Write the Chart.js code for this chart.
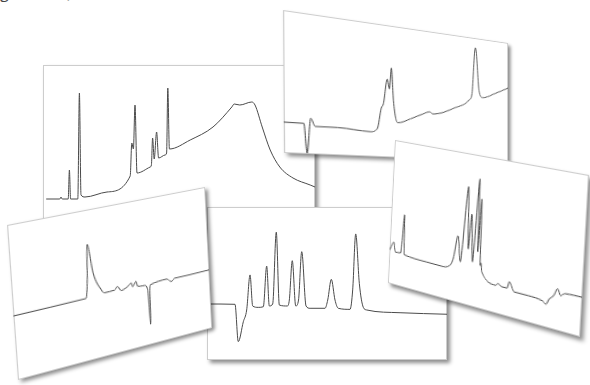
<!DOCTYPE html>
<html>
<head>
<meta charset="utf-8">
<script src="https://cdn.jsdelivr.net/npm/chart.js@4"></script>
<style>
  html, body { margin: 0; padding: 0; background: #fff; }
  body { width: 590px; height: 385px; position: relative; overflow: hidden; font-family: "Open Sans", sans-serif; }
  .caption { position: absolute; left: 0; top: -19px; font-size: 16px; color: #444; white-space: nowrap; }
  .card {
    position: absolute; left: 0; top: 0;
    transform-origin: 0 0;
    background: #fff;
    box-shadow: inset 0 0 0 1px #cdcdcd, 3px 3px 4px rgba(0, 0, 0, 0.45);
  }
  .card canvas { position: absolute; left: 0; top: 0; }
</style>
</head>
<body>
<div class="caption">g over all)</div>

<script>
// run A: gradient run with a broad hump at the end
const aTime   = [0.4, 2.1, 2.25, 2.4, 3.15, 3.3, 3.45, 4.35, 4.55, 4.75, 5.25, 8.0, 10.9, 11.1, 11.3, 11.5, 11.75, 13.4, 13.55, 13.7, 13.9, 14.2, 14.45, 15.25, 15.45, 15.6, 15.8, 18.4, 21.25, 23.6, 23.9, 24.6, 26.1, 26.5, 27.4, 28.4, 29.6, 31.25, 33.4, 34];
const aSignal = [26, 26, 28, 26, 26, 55, 26, 26, 132, 30, 28, 33, 49, 82, 76, 120, 52, 58, 60, 87, 66, 93, 67, 70, 72, 137, 76, 85, 98, 118, 121, 120, 123, 120, 98, 75, 58, 47, 40, 38];

// run B
const bTime   = [0, 2.27, 2.63, 3.07, 3.6, 6.27, 10.27, 11.2, 11.73, 12.0, 12.53, 12.8, 13.07, 13.33, 13.87, 15.6, 17.33, 18.27, 18.67, 21.87, 24.0, 24.4, 24.93, 25.47, 26.0, 28.0, 30];
const bSignal = [21.7, 21.7, 0.6, 25.6, 20, 20.2, 18.6, 21.2, 37, 40.2, 59.2, 52, 68, 43, 26.7, 30.4, 35, 37, 35.6, 41.9, 49.4, 54.5, 92.2, 57.6, 52.2, 56.7, 62.2];

// run C
const cTime   = [0, 0.7, 1.0, 1.95, 2.3, 2.55, 6.3, 8.9, 10.2, 10.7, 11.3, 11.85, 12.6, 13.0, 13.3, 13.75, 14.3, 14.5, 14.75, 15.0, 15.1, 15.3, 17.5, 17.85, 18.5, 19.25, 19.55, 20.34, 22.4, 24.5, 25.0, 25.44, 26.07, 26.58, 27.0, 27.6, 30];
const cSignal = [23.2, 29.4, 22.8, 23.2, 50, 22.5, 21.5, 21.3, 23.2, 28.2, 44.2, 27.4, 78.1, 37.2, 60.5, 29.4, 84.6, 36.8, 71.8, 28.2, 30.1, 24.3, 18, 19.5, 18.1, 18.2, 22.6, 16.9, 16.9, 16, 14.5, 18.1, 21.3, 26, 22.2, 24.1, 24.6];

// run D: one peak and a negative system peak
const dTime   = [0, 10.45, 10.8, 11.1, 11.72, 12.75, 13.25, 14.8, 15.2, 15.8, 16.98, 17.34, 17.59, 18.11, 18.36, 19.38, 19.89, 20.04, 20.26, 20.4, 22.96, 23.73, 24.25, 26.55, 30];
const dSignal = [41.7, 41.9, 54.2, 77.3, 57.8, 45.6, 42.8, 43, 45, 41.7, 43.9, 45.3, 42.4, 45.6, 42, 41.4, 38.1, 13.9, 40, 41, 42.2, 39.7, 41.5, 41.4, 41.6];

// run E: isocratic, six peaks
const eTime   = [0, 3.5, 3.91, 4.54, 4.96, 5.38, 5.71, 6.41, 7.04, 7.46, 7.79, 8.21, 8.66, 9.04, 10.04, 10.29, 10.66, 11.09, 11.44, 11.84, 12.38, 12.88, 14.75, 15.09, 15.54, 16.0, 16.41, 17.88, 18.21, 18.59, 19.04, 19.54, 19.96, 24.13, 30];
const eSignal = [36.6, 36.4, 12.0, 25.0, 32.7, 55.6, 35.3, 34.4, 34.8, 61.4, 35.3, 36.6, 83.5, 35.9, 35.3, 39.2, 64.9, 35.3, 39.2, 70.8, 35.3, 33.8, 33.8, 39.2, 52.7, 39.2, 33.8, 33.1, 45.8, 82.4, 50.1, 34.4, 32.7, 30.9, 29.9];

// each print: flat size, where its corners land (TL, TR, BR, BL), axis ranges
const cards = [
  { w: 272, h: 160, quad: [[43, 65], [315, 65], [315, 225], [43, 225]], time: aTime, signal: aSignal, xMax: 34, yMax: 160 },
  { w: 228, h: 140, quad: [[283, 10], [508, 43], [508, 162], [284, 153]], time: bTime, signal: bSignal, xMax: 30, yMax: 100 },
  { w: 240, h: 153, quad: [[207, 207], [447, 207], [447, 360], [207, 360]], time: eTime, signal: eSignal, xMax: 30, yMax: 100 },
  { w: 200, h: 150, quad: [[7, 225], [205, 187], [212, 328], [18, 380]], time: dTime, signal: dSignal, xMax: 30, yMax: 100 },
  { w: 196, h: 152, quad: [[395, 140], [589, 175], [580, 337], [388, 283]], time: cTime, signal: cSignal, xMax: 30, yMax: 100 }
];

// maps the w x h box onto an arbitrary quad (projective)
function quadMatrix(w, h, q) {
  const [x0, y0] = q[0], [x1, y1] = q[1], [x2, y2] = q[2], [x3, y3] = q[3];
  const dx1 = x1 - x2, dx2 = x3 - x2, sx = x0 - x1 + x2 - x3;
  const dy1 = y1 - y2, dy2 = y3 - y2, sy = y0 - y1 + y2 - y3;
  const den = dx1 * dy2 - dx2 * dy1;
  const g = (sx * dy2 - dx2 * sy) / den;
  const k = (dx1 * sy - sx * dy1) / den;
  const a = x1 - x0 + g * x1, b = x3 - x0 + k * x3;
  const d = y1 - y0 + g * y1, e = y3 - y0 + k * y3;
  return "matrix3d(" + [a / w, d / w, 0, g / w, b / h, e / h, 0, k / h, 0, 0, 1, 0, x0, y0, 0, 1].join(",") + ")";
}

cards.forEach(function (c) {
  const card = document.createElement("div");
  card.className = "card";
  card.style.width = c.w + "px";
  card.style.height = c.h + "px";
  card.style.transform = quadMatrix(c.w, c.h, c.quad);

  const canvas = document.createElement("canvas");
  canvas.width = c.w;
  canvas.height = c.h;
  card.appendChild(canvas);
  document.body.appendChild(card);

  const points = c.time.map(function (t, i) { return { x: t, y: c.signal[i] }; });

  new Chart(canvas.getContext("2d"), {
    type: "line",
    data: {
      datasets: [{
        data: points,
        borderColor: "#4a4a4a",
        borderWidth: 1,
        pointRadius: 0,
        cubicInterpolationMode: "monotone",
        fill: false
      }]
    },
    options: {
      responsive: false,
      animation: false,
      devicePixelRatio: 1,
      layout: { padding: 0 },
      plugins: { legend: { display: false }, tooltip: { enabled: false } },
      scales: {
        x: { type: "linear", min: 0, max: c.xMax, display: false },
        y: { min: 0, max: c.yMax, display: false }
      }
    }
  });
});
</script>
</body>
</html>
